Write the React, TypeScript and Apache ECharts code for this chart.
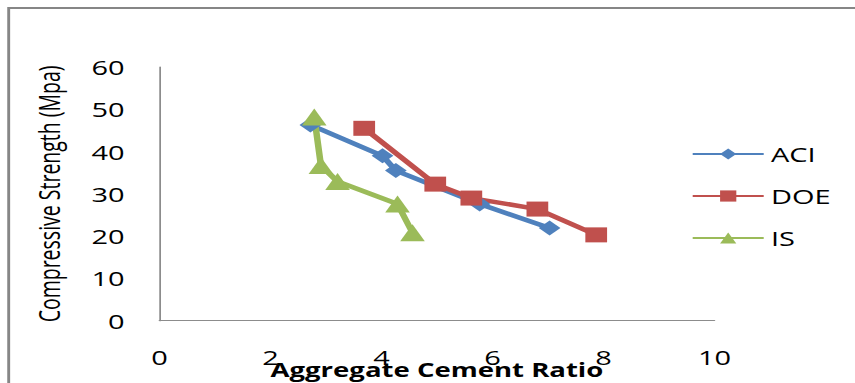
import React, { useEffect, useRef } from "react";
import * as echarts from "echarts";

// Aggregate/cement ratio vs. compressive strength for three mix design methods
const aciRatio = [2.72, 4.02, 4.26, 5.77, 7.03];
const aciStrength = [46.3, 39.0, 35.5, 27.6, 21.9];

const doeRatio = [3.69, 4.97, 5.62, 6.81, 7.87];
const doeStrength = [45.5, 32.3, 29.0, 26.4, 20.3];

const isRatio = [2.79, 2.91, 3.21, 4.29, 4.56];
const isStrength = [48.2, 36.7, 32.9, 27.6, 20.8];

const seriesNames = ["ACI", "DOE", "IS"];
const xTicks = { min: 0, max: 10, interval: 2 };
const yTicks = { min: 0, max: 60, interval: 10 };

const FONT = "'Open Sans', 'Liberation Sans', sans-serif";
// The chart is laid out at a narrower width and widened horizontally.
const INNER_W = 590;
const INNER_H = 383;
const STRETCH_X = 855 / INNER_W;

const pairs = (xs: number[], ys: number[]) => xs.map((x, i) => [x, ys[i]]);

export default function App() {
  const ref = useRef<HTMLDivElement>(null);

  useEffect(() => {
    if (!ref.current) return;
    const chart = echarts.init(ref.current, null, { renderer: "svg" });

    const mk = (name: string, data: number[][], color: string, symbol: string, size: number) => ({
      type: "line",
      name,
      data,
      symbol,
      symbolSize: size,
      showSymbol: true,
      lineStyle: { width: 4.5, color },
      itemStyle: { color },
    });

    chart.setOption({
      animation: false,
      backgroundColor: "#fff",
      textStyle: { fontFamily: FONT },
      graphic: [
        {
          type: "rect",
          shape: { x: 6, y: 8, width: 700, height: 500 },
          style: { fill: "none", stroke: "#868686", lineWidth: 2 },
          silent: true,
        },
      ],
      grid: {
        left: 110,
        right: INNER_W - 493,
        top: 67,
        bottom: INNER_H - 320.7,
        outerBoundsMode: "none",
        containLabel: false,
      },
      legend: {
        orient: "vertical",
        left: 472,
        top: 139,
        itemWidth: 49,
        itemHeight: 14,
        itemGap: 22,
        textStyle: { fontSize: 20, color: "#000", fontFamily: FONT },
        data: seriesNames,
      },
      xAxis: {
        type: "value",
        min: xTicks.min,
        max: xTicks.max,
        interval: xTicks.interval,
        splitLine: { show: false },
        axisTick: { show: false },
        axisLine: { show: true, lineStyle: { color: "#8c8c8c", width: 1.2 } },
        axisLabel: { fontSize: 20, color: "#000", margin: 26, fontFamily: FONT },
        name: "Aggregate Cement Ratio",
        nameLocation: "middle",
        nameGap: 40,
        nameMoveOverlap: false,
        nameTextStyle: { fontSize: 19, fontWeight: "bold", color: "#000", fontFamily: FONT },
      },
      yAxis: {
        type: "value",
        min: yTicks.min,
        max: yTicks.max,
        interval: yTicks.interval,
        splitLine: { show: false },
        axisTick: { show: false },
        axisLine: { show: true, lineStyle: { color: "#8c8c8c", width: 1.2 } },
        axisLabel: { fontSize: 20, color: "#000", margin: 24, fontFamily: FONT },
        name: "Compressive Strength (Mpa)",
        nameLocation: "middle",
        nameGap: 66,
        nameMoveOverlap: false,
        nameTextStyle: { fontSize: 19.5, color: "#000", fontFamily: FONT },
      },
      series: [
        mk(seriesNames[0], pairs(aciRatio, aciStrength), "#4F81BD", "diamond", 15),
        mk(seriesNames[1], pairs(doeRatio, doeStrength), "#C0504D", "rect", 15),
        mk(seriesNames[2], pairs(isRatio, isStrength), "#9BBB59", "triangle", 17),
      ],
    });

    return () => chart.dispose();
  }, []);

  return (
    <div
      style={{
        position: "absolute",
        left: 0,
        top: 0,
        width: 855,
        height: INNER_H,
        overflow: "hidden",
        background: "#fff",
      }}
    >
      <div
        ref={ref}
        style={{
          width: INNER_W,
          height: INNER_H,
          transform: `scaleX(${STRETCH_X})`,
          transformOrigin: "0 0",
        }}
      />
    </div>
  );
}
